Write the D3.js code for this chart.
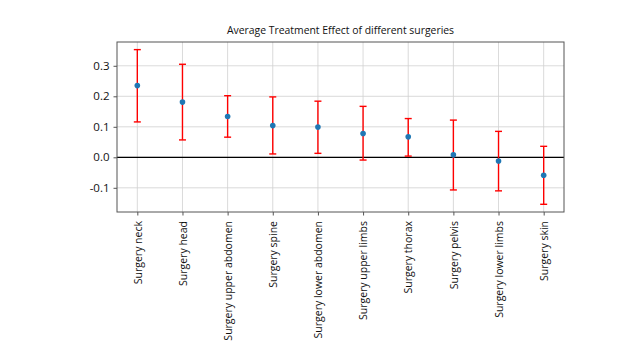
<!DOCTYPE html>
<html><head><meta charset="utf-8">
<script src="https://cdn.jsdelivr.net/npm/d3@7"></script>
<style>body{margin:0;background:#fff;} svg{display:block;}</style>
</head><body>
<svg id="c" width="634" height="357"></svg>
<script>
const categories = ["Surgery neck","Surgery head","Surgery upper abdomen","Surgery spine","Surgery lower abdomen","Surgery upper limbs","Surgery thorax","Surgery pelvis","Surgery lower limbs","Surgery skin"];
const effects = [0.235,0.181,0.134,0.104,0.099,0.078,0.067,0.008,-0.012,-0.059];
const lower = [0.116,0.057,0.066,0.011,0.013,-0.009,0.004,-0.107,-0.110,-0.154];
const upper = [0.353,0.305,0.202,0.198,0.184,0.167,0.127,0.122,0.085,0.036];
const yTicks = [-0.1,0.0,0.1,0.2,0.3];
const title = "Average Treatment Effect of different surgeries";

const svg = d3.select("#c");
const L=117,R=564,T=42,B=212;
const font = "'Open Sans', sans-serif";
const x = d3.scaleLinear().domain([-0.45, categories.length-1+0.45]).range([L,R]);
const y = d3.scaleLinear().domain([-0.1793, 0.378]).range([B,T]);

// grid
const g = svg.append("g");
g.selectAll(".gx").data(categories).join("line")
  .attr("x1",(d,i)=>x(i)).attr("x2",(d,i)=>x(i)).attr("y1",T).attr("y2",B)
  .attr("stroke","#d0d0d0").attr("stroke-width",0.8);
g.selectAll(".gy").data(yTicks).join("line")
  .attr("x1",L).attr("x2",R).attr("y1",d=>y(d)).attr("y2",d=>y(d))
  .attr("stroke","#d0d0d0").attr("stroke-width",0.8);

// zero line
svg.append("line").attr("x1",L).attr("x2",R).attr("y1",y(0)).attr("y2",y(0))
  .attr("stroke","#000").attr("stroke-width",1.3);

// error bars
const eb = svg.append("g").attr("stroke","#ff0000").attr("stroke-width",1.4);
categories.forEach((c,i)=>{
  eb.append("line").attr("x1",x(i)).attr("x2",x(i)).attr("y1",y(lower[i])).attr("y2",y(upper[i]));
  eb.append("line").attr("x1",x(i)-3.5).attr("x2",x(i)+3.5).attr("y1",y(lower[i])).attr("y2",y(lower[i]));
  eb.append("line").attr("x1",x(i)-3.5).attr("x2",x(i)+3.5).attr("y1",y(upper[i])).attr("y2",y(upper[i]));
});
// points
svg.append("g").selectAll("circle").data(effects).join("circle")
  .attr("cx",(d,i)=>x(i)).attr("cy",d=>y(d)).attr("r",2.8).attr("fill","#1f77b4");

// frame
svg.append("rect").attr("x",L).attr("y",T).attr("width",R-L).attr("height",B-T)
  .attr("fill","none").attr("stroke","#555").attr("stroke-width",1);

// y axis
const fmt = d => d3.format(".1f")(d).replace("\u2212","-");
const ya = svg.append("g").attr("transform",`translate(${L},0)`)
  .call(d3.axisLeft(y).tickValues(yTicks).tickFormat(fmt).tickSize(3.5).tickPadding(4));
ya.select(".domain").remove();
ya.selectAll("line").attr("stroke","#555");
ya.selectAll("text").attr("font-family",font).attr("font-size",11.5).attr("fill","#111");

// x axis
const xa = svg.append("g").attr("transform",`translate(0,${B})`)
  .call(d3.axisBottom(x).tickValues(d3.range(categories.length)).tickFormat(i=>categories[i]).tickSize(3.5).tickPadding(3));
xa.select(".domain").remove();
xa.selectAll("line").attr("stroke","#555");
xa.selectAll("text").attr("font-family",font).attr("font-size",10.5).attr("fill","#111")
  .attr("transform","rotate(-90)").attr("text-anchor","end").attr("dy","0.35em").attr("x",-9).attr("y",0);

// title
svg.append("text").attr("x",(L+R)/2).attr("y",34).attr("text-anchor","middle")
  .attr("font-family",font).attr("font-size",10.4).attr("fill","#111").text(title);
</script>
</body></html>
